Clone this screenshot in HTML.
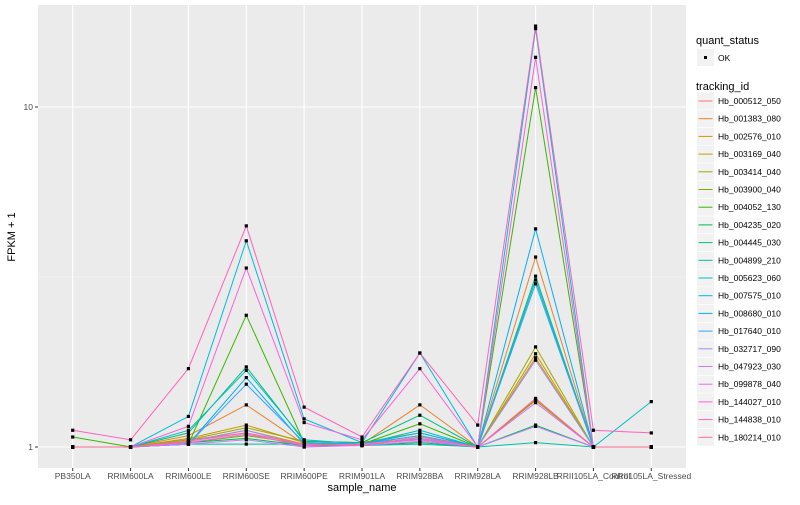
<!DOCTYPE html>
<html><head><meta charset="utf-8"><style>
body{margin:0;background:#fff;font-family:"Liberation Sans",sans-serif}
svg text{font-family:"Liberation Sans",sans-serif}
</style></head><body>
<svg id="chart" width="800" height="500" xmlns="http://www.w3.org/2000/svg">
<rect x="0" y="0" width="800" height="500" fill="#fff"/>
<rect x="38" y="5" width="648" height="463" fill="#ebebeb"/>
<g id="grid"></g><g id="series"></g><g id="axes"></g><g id="legend"></g>
</svg>
<script>
const categories=["PB350LA","RRIM600LA","RRIM600LE","RRIM600SE","RRIM600PE","RRIM901LA","RRIM928BA","RRIM928LA","RRIM928LB","RRII105LA_Control","RRII105LA_Stressed"];
const seriesNames=["Hb_000512_050","Hb_001383_080","Hb_002576_010","Hb_003169_040","Hb_003414_040","Hb_003900_040","Hb_004052_130","Hb_004235_020","Hb_004445_030","Hb_004899_210","Hb_005623_060","Hb_007575_010","Hb_008680_010","Hb_017640_010","Hb_032717_090","Hb_047923_030","Hb_099878_040","Hb_144027_010","Hb_144838_010","Hb_180214_010"];
const colors=["#F8766D","#EA8331","#D89000","#C09B00","#A3A500","#7CAE00","#39B600","#00BB4E","#00BF7D","#00C1A3","#00BFC4","#00BAE0","#00B0F6","#35A2FF","#9590FF","#C77CFF","#E76BF3","#FA62DB","#FF62BC","#FF6C91"];
const s0=[1,1,1.05,1.10,1,1.02,1.05,1,1.38,1,1];
const s1=[1,1,1.08,1.33,1.02,1.02,1.33,1,3.62,1,1];
const s2=[1,1,1.04,1.12,1.02,1.03,1.05,1,1.83,1,1];
const s3=[1,1,1.06,1.16,1.03,1.02,1.08,1,1.88,1,1];
const s4=[1,1,1.05,1.14,1.04,1.03,1.10,1,1.97,1,1];
const s5=[1,1,1.03,1.08,1.02,1.01,1.06,1,1.37,1,1];
const s6=[1.07,1,1.02,2.44,1.03,1.02,1.17,1,11.4,1,1];
const s7=[1,1,1.03,1.06,1.01,1.01,1.03,1,1.16,1,1];
const s8=[1,1,1.10,1.72,1.04,1.03,1.24,1,3.18,1,1];
const s9=[1,1,1.02,1.02,1.02,1.01,1.02,1,1.03,1,1];
const s10=[1,1,1.12,1.68,1.05,1.02,1.12,1,3.10,1,1.36];
const s11=[1,1,1.23,4.04,1.21,1.03,1.89,1,17.0,1,1];
const s12=[1,1,1.02,1.60,1.02,1.02,1.10,1,4.38,1,1];
const s13=[1,1,1.02,1.53,1.03,1.02,1.08,1,3.02,1,1];
const s14=[1,1,1.04,1.12,1.01,1.02,1.06,1,1.80,1,1];
const s15=[1,1,1.02,1.05,1.0,1.01,1.04,1,1.15,1,1];
const s16=[1,1,1.03,1.09,1.01,1.02,1.05,1,1.35,1,1];
const s17=[1,1,1.15,3.36,1.18,1.05,1.70,1,14.0,1,1];
const s18=[1.12,1.05,1.70,4.47,1.31,1.07,1.89,1.16,17.3,1.12,1.10];
const s19=[1,1,1.04,1.10,1.02,1.01,1.07,1,1.39,1,1];
const seriesValues=[s0,s1,s2,s3,s4,s5,s6,s7,s8,s9,s10,s11,s12,s13,s14,s15,s16,s17,s18,s19];
const yTicks=[1,10];
const yTickLabels=["1","10"];

const NS="http://www.w3.org/2000/svg";
function mk(tag,attrs,parent){const e=document.createElementNS(NS,tag);for(const k in attrs)e.setAttribute(k,attrs[k]);parent.appendChild(e);return e;}
const step=648/(categories.length-1+1.2);
function xs(i){return 38+step*(0.6+i);}
function ys(v){return 447-340*Math.log10(v);}
const grid=document.getElementById('grid'),ser=document.getElementById('series'),ax=document.getElementById('axes'),lg=document.getElementById('legend');
// minor grid
[1,10].forEach(t=>{const y=ys(t*Math.sqrt(10));if(y>5&&y<468){const l=mk('line',{x1:38,x2:686,y1:y,y2:y,stroke:'#f5f5f5','stroke-width':0.6},grid);

}});
yTicks.forEach((t,i)=>{const y=ys(t);const l=mk('line',{x1:38,x2:686,y1:y,y2:y,stroke:'#fff','stroke-width':1.1},grid);


const tk=mk('line',{x1:35,x2:38,y1:y,y2:y,stroke:'#333','stroke-width':1},ax);


const tx=mk('text',{x:33,y:y+3,'text-anchor':'end','font-size':8.5,fill:'#4d4d4d'},ax);tx.textContent=yTickLabels[i];

});
categories.forEach((c,i)=>{const x=xs(i);const l=mk('line',{x1:x,x2:x,y1:5,y2:468,stroke:'#fff','stroke-width':1.1},grid);


const tk=mk('line',{x1:x,x2:x,y1:468,y2:471,stroke:'#333','stroke-width':1},ax);


const tx=mk('text',{x:x,y:479,'text-anchor':'middle','font-size':8.5,fill:'#4d4d4d'},ax);tx.textContent=c;

});
seriesValues.forEach((vals,k)=>{const pts=vals.map((v,i)=>xs(i).toFixed(1)+','+ys(v).toFixed(1)).join(' ');
const p=mk('polyline',{points:pts,fill:'none',stroke:colors[k],'stroke-width':1},ser);

});
seriesValues.forEach((vals,k)=>{vals.forEach((v,i)=>{const r=mk('rect',{x:xs(i)-1.6,y:ys(v)-1.6,width:3.2,height:3.2,fill:'#000'},ser);

});});
const xt=mk('text',{x:362,y:491,'text-anchor':'middle','font-size':11,fill:'#000'},ax);xt.textContent='sample_name';


const yt=mk('text',{x:0,y:0,'text-anchor':'middle','font-size':11,fill:'#000',transform:'translate(15,237) rotate(-90)'},ax);yt.textContent='FPKM + 1';


// legend
const t1=mk('text',{x:696,y:44,'font-size':11,fill:'#000'},lg);t1.textContent='quant_status';


const kb=mk('rect',{x:697,y:49,width:17,height:17,fill:'#f2f2f2'},lg);


const kd=mk('rect',{x:704,y:56,width:3,height:3,fill:'#000'},lg);


const ok=mk('text',{x:718,y:61,'font-size':8.5,fill:'#000'},lg);ok.textContent='OK';


const t2=mk('text',{x:696,y:90,'font-size':11,fill:'#000'},lg);t2.textContent='tracking_id';


seriesNames.forEach((n,k)=>{const y=101+k*17.7;
const b=mk('rect',{x:697,y:y-8.5,width:17,height:17,fill:'#f2f2f2'},lg);


const l=mk('line',{x1:698.5,x2:712.5,y1:y,y2:y,stroke:colors[k],'stroke-width':1},lg);


const t=mk('text',{x:718,y:y+3,'font-size':8.5,fill:'#000'},lg);t.textContent=n;

});
</script>
</body></html>
